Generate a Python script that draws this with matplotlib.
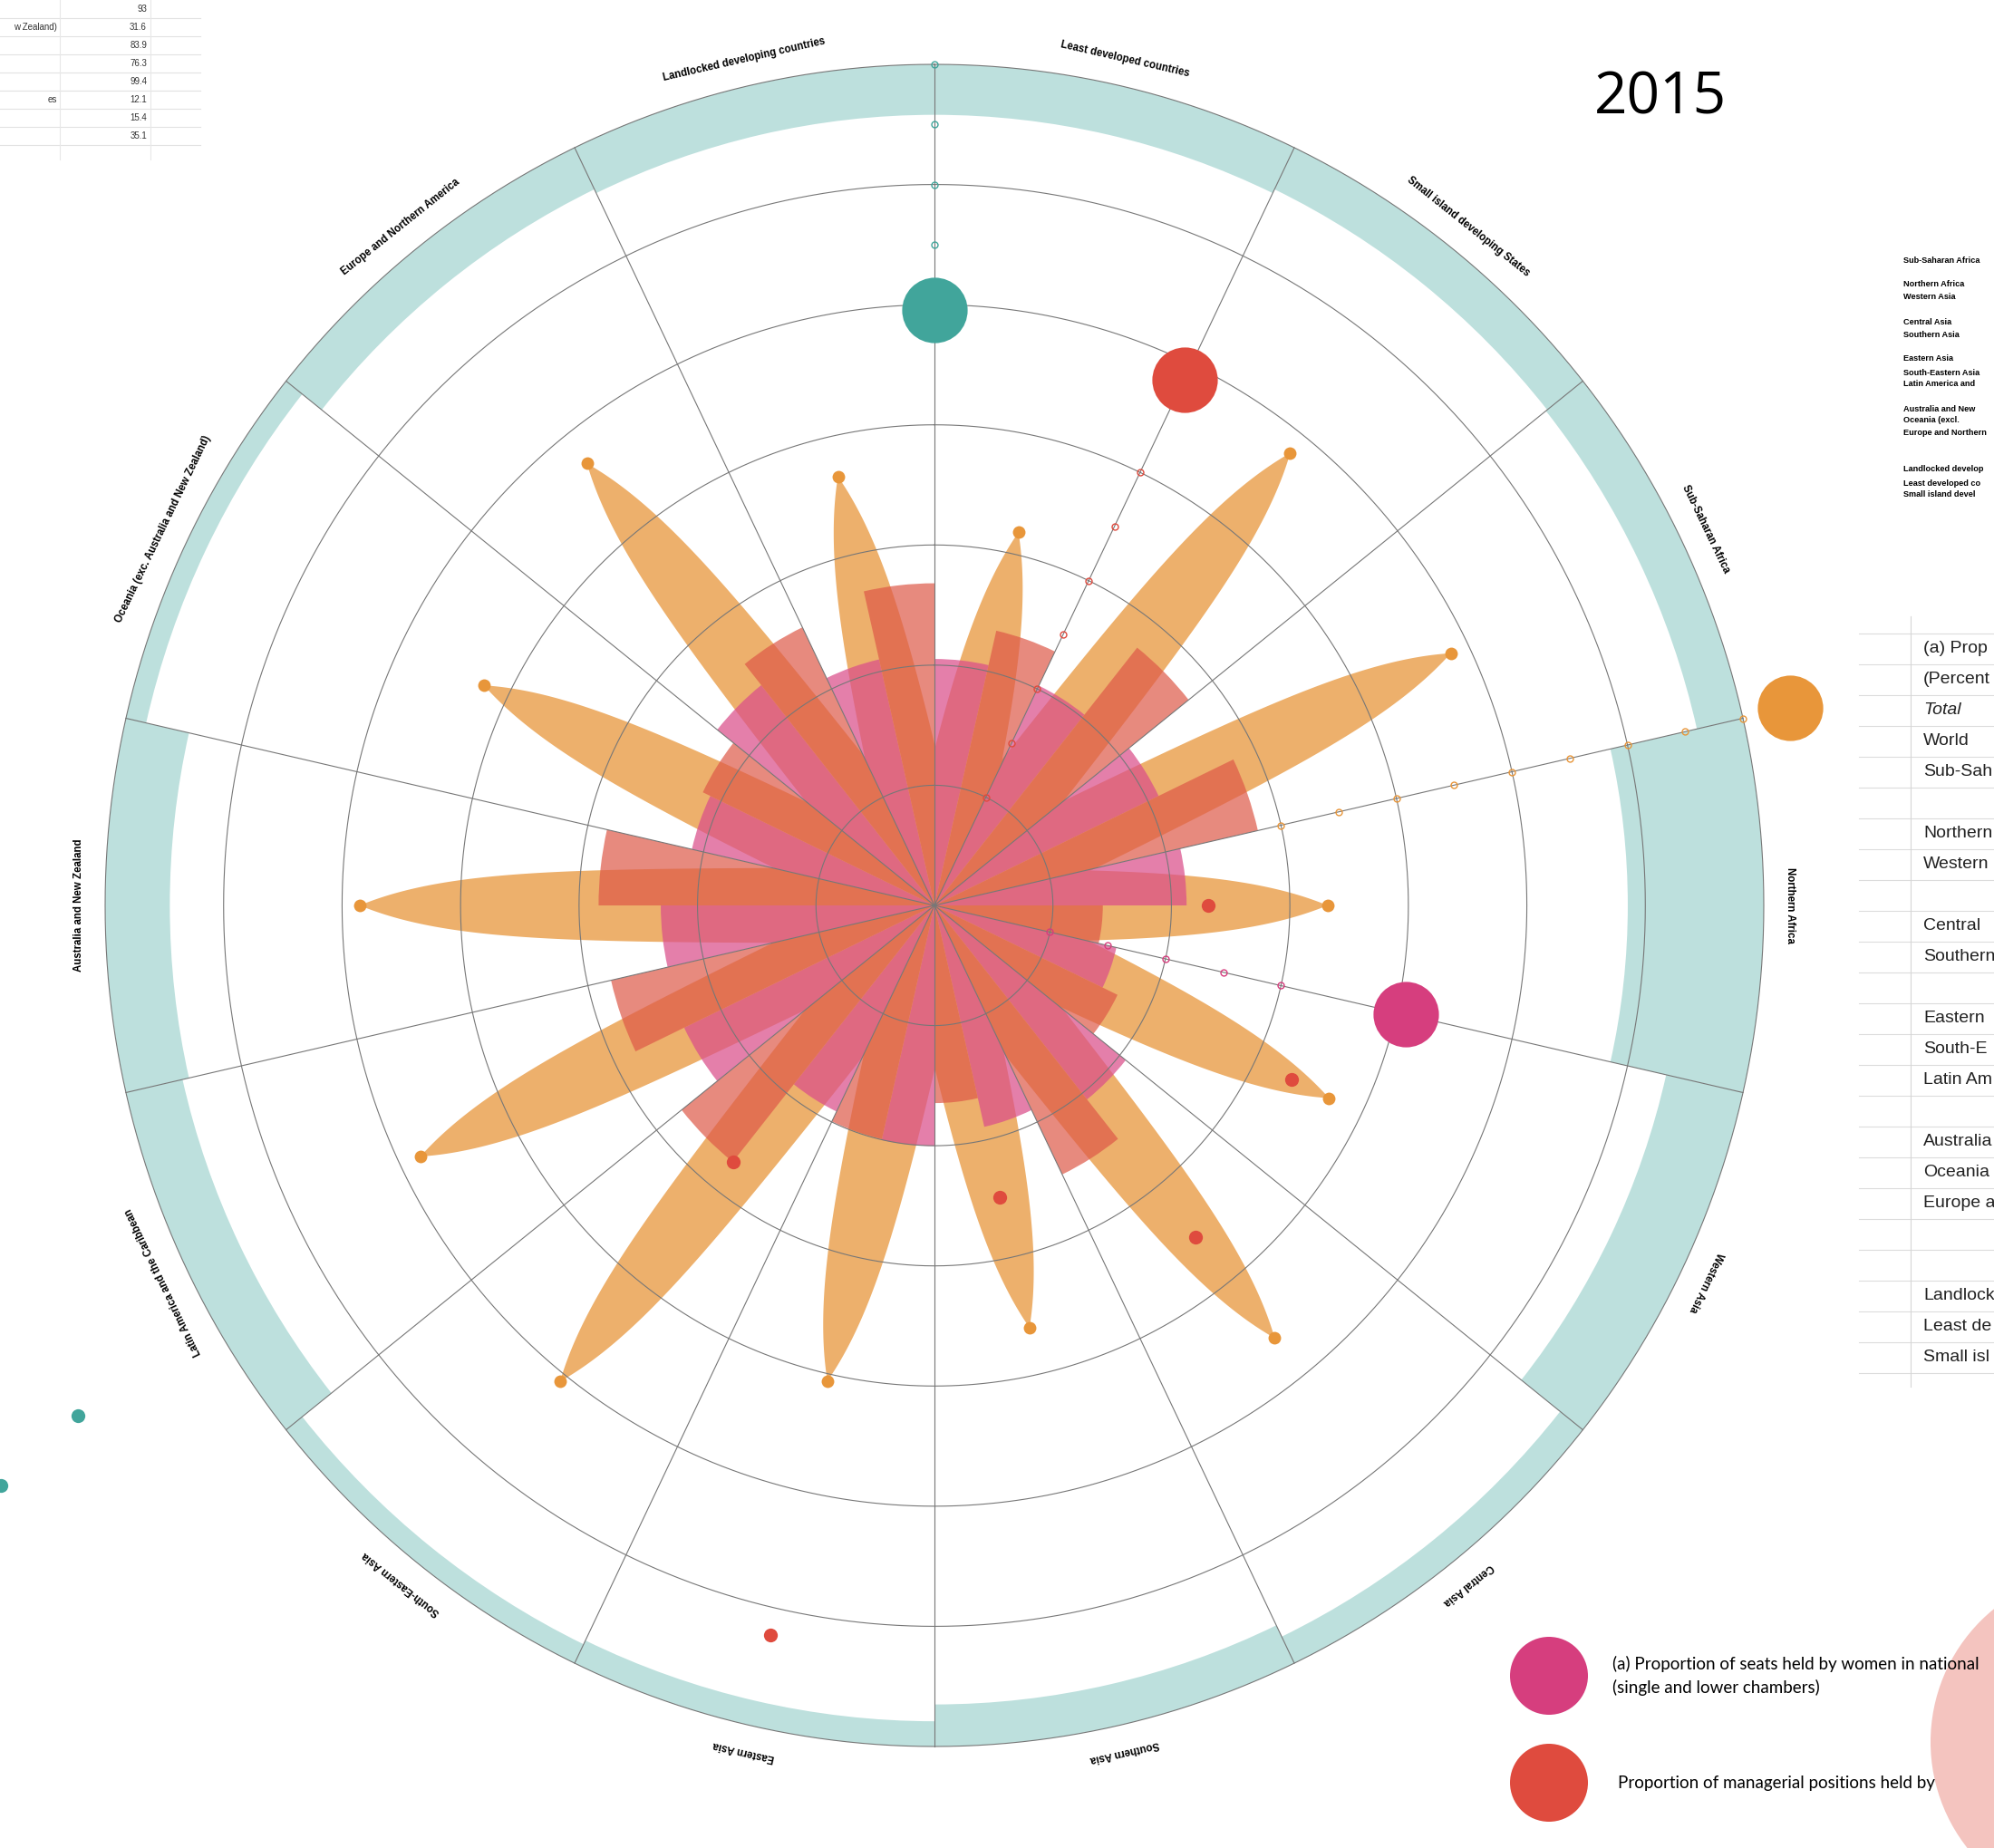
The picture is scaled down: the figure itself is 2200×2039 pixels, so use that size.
import numpy as np
import matplotlib
matplotlib.use("Agg")
import matplotlib.pyplot as plt
from matplotlib.patches import Circle

plt.rcParams["font.family"] = ["Liberation Sans", "DejaVu Sans"]

# ---------------- data (r = 1 is the outer ring) ----------------
regions = ["Least developed countries", "Small island developing States",
           "Sub-Saharan Africa", "Northern Africa", "Western Asia", "Central Asia",
           "Southern Asia", "Eastern Asia", "South-Eastern Asia",
           "Latin America and the Caribbean", "Australia and New Zealand",
           "Oceania (exc. Australia and New Zealand)", "Europe and Northern America",
           "Landlocked developing countries"]

band_depth = [0.060, 0.055, 0.057, 0.164, 0.095, 0.035, 0.050,
              0.030, 0.025, 0.070, 0.078, 0.025, 0.055, 0.060]
petal_len = [0.455, 0.688, 0.691, 0.474, 0.528, 0.658, 0.515,
             0.580, 0.724, 0.688, 0.693, 0.603, 0.672, 0.523]
seats = [0.293, 0.290, 0.300, 0.304, 0.225, 0.295, 0.270,
         0.286, 0.272, 0.335, 0.330, 0.300, 0.335, 0.300]
managers = [0.335, 0.392, 0.400, 0.203, 0.245, 0.355, 0.235,
            0.285, 0.390, 0.400, 0.405, 0.310, 0.367, 0.383]

# small red dots sitting on petals (sector index, radius)
red_dot_sector = [3, 4, 5, 6, 8, 7]
red_dot_r = [0.330, 0.478, 0.504, 0.356, 0.390, 0.890]

# big "world" dots on the radial lines (line index, radius)
big_line = [0, 1, 3, 4]
big_r = [0.708, 0.694, 1.058, 0.583]

# scale ticks along the same radial lines (in 1/14 steps)
tick_line = [0, 1, 3, 4]
tick_steps = [[11, 12, 13, 14], [2, 3, 4, 5, 6, 7, 8],
              [6, 7, 8, 9, 10, 11, 12, 13, 14], [2, 3, 4, 5, 6]]

# stray teal points left of the wheel (angle deg, radius)
stray_ang = [239.6, 238.5]
stray_r = [1.198, 1.320]

# fragments of tables around the wheel (only the visible parts)
tl_values = ["93", "31.6", "83.9", "76.3", "99.4", "12.1", "15.4", "35.1"]
tl_labels = ["", "w Zealand)", "", "", "", "es", "", ""]
side_list = ["Sub-Saharan Africa", "Northern Africa", "Western Asia", "Central Asia",
             "Southern Asia", "Eastern Asia", "South-Eastern Asia",
             "Latin America and", "Australia and New", "Oceania (excl.",
             "Europe and Northern", "Landlocked develop", "Least developed co",
             "Small island devel"]
side_list_y = [287, 313, 327, 355, 369, 396, 411, 423, 452, 463, 478, 518, 533, 545]
table_rows = ["(a) Prop", "(Percent", "Total", "World", "Sub-Sah", "",
              "Northern", "Western", "", "Central", "Southern", "",
              "Eastern", "South-E", "Latin Am", "",
              "Australia", "Oceania", "Europe a", "", "", "Landlock",
              "Least de", "Small isl"]

# ---------------- colours ----------------
TEAL_BAND = "#bde0dd"
TEAL = "#41a59b"
PETAL = "#edb06c"
PETAL_DOT = "#e8963a"
PINK = "#da4e8a"
RED = "#de5848"
RED_DOT = "#df4b3e"
PINK_DOT = "#d63e7e"
GRID = "#777777"

# ---------------- geometry ----------------
N = len(regions)
SECT = 2 * np.pi / N
starts = np.arange(N) * SECT
centers = starts + SECT / 2

W, H = 2200, 2039
CX, CY = 1031, 999          # wheel centre in pixels (y down)
RX, RY = 915, 928           # pixel radius of r = 1
RMAX = 1.35

fig = plt.figure(figsize=(W / 100, H / 100), dpi=100)
fig.patch.set_facecolor("white")

ax = fig.add_axes([(CX - RX * RMAX) / W, (H - CY - RY * RMAX) / H,
                   2 * RX * RMAX / W, 2 * RY * RMAX / H], projection="polar")
ax.set_theta_zero_location("N")
ax.set_theta_direction(-1)
ax.set_ylim(0, RMAX)
ax.set_aspect("auto")
ax.axis("off")

# teal outer band, hanging inward from r = 1
band = np.asarray(band_depth)
ax.bar(starts, band, width=SECT, bottom=1 - band, align="edge",
       color=TEAL_BAND, edgecolor="none", zorder=1)

# orange petals (lens shapes, pointed at the tip)
def petal(theta_c, L, n=160):
    s = np.linspace(0, L, n)
    u = L - s
    h = 0.045 * (1 - np.exp(-u / 0.11)) * (1 - np.exp(-s / 0.03))
    r = np.hypot(s, h)
    d = np.arctan2(h, s)
    th = np.concatenate([theta_c + d, (theta_c - d)[::-1]])
    rr = np.concatenate([r, r[::-1]])
    return th, rr

for k in range(N):
    th, rr = petal(centers[k], petal_len[k])
    ax.fill(th, rr, color=PETAL, lw=0, zorder=2)

# pink (seats) on first half of each sector, red (managers) on second half
ax.bar(starts, seats, width=SECT / 2, align="edge", color=PINK, alpha=0.72,
       edgecolor="none", zorder=3)
ax.bar(starts + SECT / 2, managers, width=SECT / 2, align="edge", color=RED,
       alpha=0.70, edgecolor="none", zorder=4)

# grid rings and radial lines
tt = np.linspace(0, 2 * np.pi, 721)
for k in range(1, 8):
    ax.plot(tt, np.full_like(tt, k / 7), color=GRID, lw=0.8, zorder=5)
for a in starts:
    ax.plot([a, a], [0, 1], color=GRID, lw=0.8, zorder=5)

# petal tip dots and red dots
ax.plot(centers, petal_len, "o", ms=10, color=PETAL_DOT, mec="none", zorder=6)
ax.plot(centers[red_dot_sector], red_dot_r, "o", ms=11, color=RED_DOT, mec="none", zorder=6)

# scale ticks and big dots on radial lines
line_cols = [TEAL, RED_DOT, PETAL_DOT, PINK_DOT]
for li, steps, col in zip(tick_line, tick_steps, line_cols):
    ax.plot(np.full(len(steps), starts[li]), np.array(steps) / 14, "o", ms=5,
            mfc="none", mec=col, mew=1.0, zorder=6, clip_on=False)
for li, r, col in zip(big_line, big_r, line_cols):
    ax.plot(starts[li], r, "o", ms=52, color=col, mec="none", zorder=7, clip_on=False)

ax.plot(np.radians(stray_ang), stray_r, "o", ms=11, color=TEAL, mec="none",
        zorder=6, clip_on=False)

# region labels around the wheel
for k in range(N):
    ax.text(centers[k], 1.032, regions[k], rotation=-np.degrees(centers[k]),
            rotation_mode="anchor", ha="center", va="center",
            fontsize=8.3, fontweight="bold", color="black")

# ---------------- overlay in pixel coordinates ----------------
ov = fig.add_axes([0, 0, 1, 1])
ov.set_xlim(0, W)
ov.set_ylim(H, 0)
ov.axis("off")

# top-left table fragment
for i, (lab, val) in enumerate(zip(tl_labels, tl_values)):
    y = 10 + 20 * i
    ov.text(162, y, val, ha="right", va="center", fontsize=7, color="#333333")
    if lab:
        ov.text(63, y, lab, ha="right", va="center", fontsize=7, color="#333333")
    ov.plot([0, 221], [y + 10, y + 10], color="#e2e2e2", lw=0.8)
ov.plot([66, 66], [0, 176], color="#e8e8e8", lw=0.8)
ov.plot([166, 166], [0, 176], color="#e8e8e8", lw=0.8)

# year
ov.text(1832, 109, "2015", ha="center", va="center", fontsize=46,
        family=["Open Sans", "DejaVu Sans"], color="black")

# small list on the right
for lab, y in zip(side_list, side_list_y):
    ov.text(2100, y, lab, ha="left", va="center", fontsize=6.6,
            fontweight="bold", color="black")

# right table fragment
for i, lab in enumerate(table_rows):
    y = 716 + 34 * i
    style = "italic" if lab == "Total" else "normal"
    ov.text(2122, y, lab, ha="left", va="center", fontsize=14, style=style,
            color="#222222")
for i in range(len(table_rows) + 1):
    y = 699 + 34 * i
    ov.plot([2051, W], [y, y], color="#dcdcdc", lw=0.8)
ov.plot([2108, 2108], [680, 1530], color="#d6d6d6", lw=0.8)

# legend bottom right
ov.add_patch(Circle((2319, 1922), 189, color="#f4c4bf", lw=0))
ov.add_patch(Circle((1709, 1849), 43, color=PINK_DOT, lw=0))
ov.add_patch(Circle((1709, 1967), 43, color=RED_DOT, lw=0))
lfont = ["Lato", "DejaVu Sans"]
ov.text(1779, 1836, "(a) Proportion of seats held by women in national",
        ha="left", va="center", fontsize=13.5, family=lfont, color="black")
ov.text(1779, 1862, "(single and lower chambers)", ha="left", va="center",
        fontsize=13.5, family=lfont, color="black")
ov.text(1785, 1967, "Proportion of managerial positions held by",
        ha="left", va="center", fontsize=13.5, family=lfont, color="black")

fig.savefig("out.png", dpi=100, facecolor="white")
